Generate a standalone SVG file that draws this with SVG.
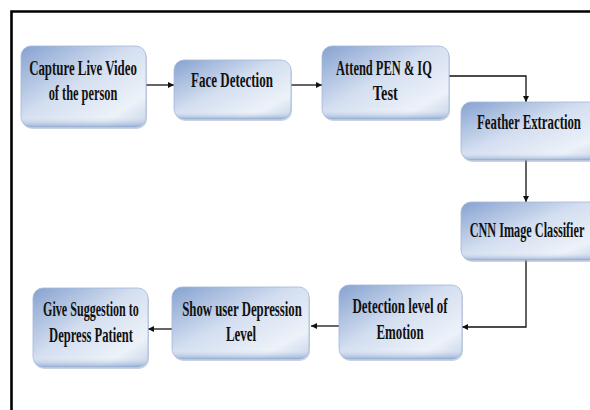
<svg xmlns="http://www.w3.org/2000/svg" width="590" height="410" viewBox="0 0 590 410">
<defs>
<linearGradient id="g" x1="0" y1="0" x2="1" y2="1">
<stop offset="0" stop-color="#86a2d0"/>
<stop offset="0.45" stop-color="#d3def0"/>
<stop offset="0.8" stop-color="#edf2f9"/>
<stop offset="1" stop-color="#c2d2e8"/>
</linearGradient>
<linearGradient id="gb" x1="0" y1="0" x2="0" y2="1">
<stop offset="0.85" stop-color="#ffffff" stop-opacity="0"/>
<stop offset="1" stop-color="#7e9cc9" stop-opacity="0.7"/>
</linearGradient>
<marker id="ah" viewBox="0 0 10 10" refX="10" refY="5" markerWidth="6" markerHeight="6" markerUnits="userSpaceOnUse" orient="auto">
<path d="M0,0 L10,5 L0,10 z" fill="#111"/>
</marker>
</defs>
<style>
.box{fill:url(#g);stroke:#a4b8da;stroke-width:0.8}
.sh{fill:#8b9dba;opacity:0.45}
.hl{fill:url(#gb)}
.t{font-family:"Liberation Serif","Times New Roman",serif;font-weight:bold;font-size:21px;fill:#111;text-anchor:middle}
.c{fill:none;stroke:#111;stroke-width:1.3}
</style>
<rect width="590" height="410" fill="#fff"/>
<path d="M11.5,410 V11.5 H590" fill="none" stroke="#000" stroke-width="2.6"/>
<g id="connectors">
<path class="c" d="M146,85 H174" marker-end="url(#ah)"/>
<path class="c" d="M291,85 H322" marker-end="url(#ah)"/>
<path class="c" d="M449,76 H526 V102" marker-end="url(#ah)"/>
<path class="c" d="M526,160 V202" marker-end="url(#ah)"/>
<path class="c" d="M526,260 V327 H462" marker-end="url(#ah)" stroke="#444"/>
<path class="c" d="M339,326 H311" marker-end="url(#ah)"/>
<path class="c" d="M172,329 H148" marker-end="url(#ah)"/>
</g>
<g id="capture">
<rect class="sh" x="22" y="48" width="125" height="81" rx="10"/>
<rect class="box" x="21" y="46" width="125" height="81" rx="10"/>
<rect class="hl" x="21" y="46" width="125" height="81" rx="10"/>
<g transform="translate(83,0) scale(0.63,1)">
<text class="t" x="0" y="75" textLength="171" lengthAdjust="spacingAndGlyphs">Capture Live Video</text>
<text class="t" x="0" y="100" textLength="109" lengthAdjust="spacingAndGlyphs">of the person</text>
</g>
</g>
<g id="face">
<rect class="sh" x="175" y="62" width="117" height="59" rx="10"/>
<rect class="box" x="174" y="60" width="117" height="59" rx="10"/>
<rect class="hl" x="174" y="60" width="117" height="59" rx="10"/>
<g transform="translate(232,0) scale(0.63,1)">
<text class="t" x="0" y="87" textLength="130" lengthAdjust="spacingAndGlyphs">Face Detection</text>
</g>
</g>
<g id="attend">
<rect class="sh" x="323" y="48" width="127" height="73" rx="10"/>
<rect class="box" x="322" y="46" width="127" height="73" rx="10"/>
<rect class="hl" x="322" y="46" width="127" height="73" rx="10"/>
<g transform="translate(384,0) scale(0.63,1)">
<text class="t" x="0" y="75" textLength="152" lengthAdjust="spacingAndGlyphs">Attend PEN &amp; IQ</text>
<text class="t" x="2" y="100" textLength="40" lengthAdjust="spacingAndGlyphs">Test</text>
</g>
</g>
<g id="feather">
<rect class="sh" x="462" y="104" width="140" height="58" rx="10"/>
<rect class="box" x="461" y="102" width="140" height="58" rx="10"/>
<rect class="hl" x="461" y="102" width="140" height="58" rx="10"/>
<g transform="translate(529,0) scale(0.63,1)">
<text class="t" x="0" y="129" textLength="165" lengthAdjust="spacingAndGlyphs">Feather Extraction</text>
</g>
</g>
<g id="cnn">
<rect class="sh" x="462" y="204" width="140" height="58" rx="10"/>
<rect class="box" x="461" y="202" width="140" height="58" rx="10"/>
<rect class="hl" x="461" y="202" width="140" height="58" rx="10"/>
<g transform="translate(527,0) scale(0.63,1)">
<text class="t" x="0" y="237" textLength="182" lengthAdjust="spacingAndGlyphs">CNN Image Classifier</text>
</g>
</g>
<g id="detection">
<rect class="sh" x="340" y="287" width="123" height="74" rx="10"/>
<rect class="box" x="339" y="285" width="123" height="74" rx="10"/>
<rect class="hl" x="339" y="285" width="123" height="74" rx="10"/>
<g transform="translate(400,0) scale(0.63,1)">
<text class="t" x="0" y="313" textLength="151" lengthAdjust="spacingAndGlyphs">Detection level of</text>
<text class="t" x="0" y="339" textLength="75" lengthAdjust="spacingAndGlyphs">Emotion</text>
</g>
</g>
<g id="show">
<rect class="sh" x="173" y="289" width="137" height="72" rx="10"/>
<rect class="box" x="172" y="287" width="137" height="72" rx="10"/>
<rect class="hl" x="172" y="287" width="137" height="72" rx="10"/>
<g transform="translate(242,0) scale(0.63,1)">
<text class="t" x="0" y="316" textLength="190" lengthAdjust="spacingAndGlyphs">Show user Depression</text>
<text class="t" x="-1.5" y="341" textLength="48" lengthAdjust="spacingAndGlyphs">Level</text>
</g>
</g>
<g id="give">
<rect class="sh" x="34" y="290" width="115" height="79" rx="10"/>
<rect class="box" x="33" y="288" width="115" height="79" rx="10"/>
<rect class="hl" x="33" y="288" width="115" height="79" rx="10"/>
<g transform="translate(91,0) scale(0.63,1)">
<text class="t" x="0" y="316" textLength="152" lengthAdjust="spacingAndGlyphs">Give Suggestion to</text>
<text class="t" x="0" y="342" textLength="133" lengthAdjust="spacingAndGlyphs">Depress Patient</text>
</g>
</g>
</svg>
